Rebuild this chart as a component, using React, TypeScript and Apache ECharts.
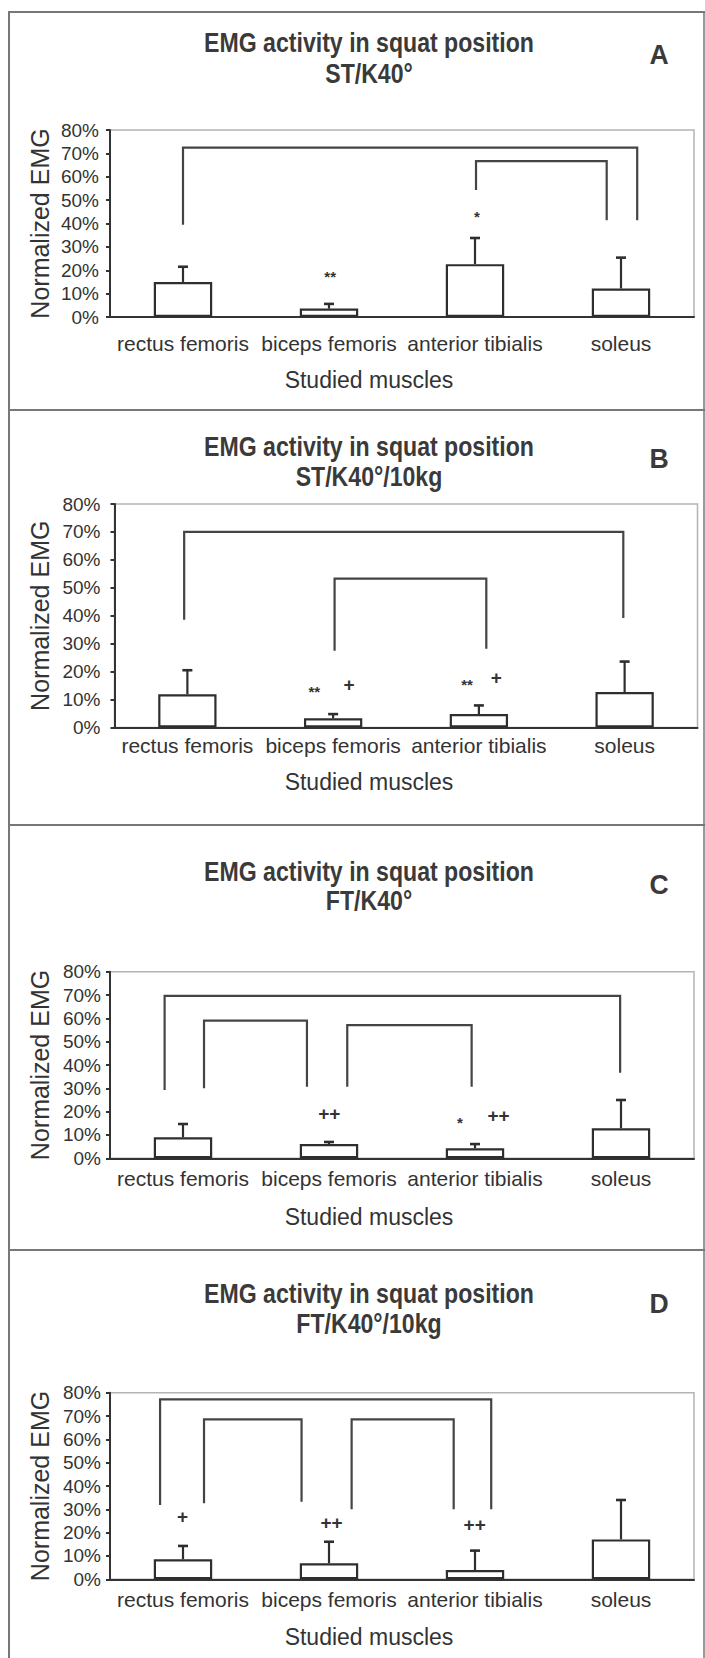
import React, { useEffect, useRef } from 'react';
import * as echarts from 'echarts';

const FONT = "'Liberation Sans', Arial, Helvetica, sans-serif";

const categories = ['rectus femoris', 'biceps femoris', 'anterior tibialis', 'soleus'];
const titleLine1 = 'EMG activity in squat position';
const subtitles = ['ST/K40°', 'ST/K40°/10kg', 'FT/K40°', 'FT/K40°/10kg'];
const panelLetters = ['A', 'B', 'C', 'D'];
const xAxisTitle = 'Studied muscles';
const yAxisTitle = 'Normalized EMG';

// mean normalized EMG (%) and top of error bar (%)
const meanA = [15, 3.6, 22.6, 12.2];
const errTopA = [21.5, 5.6, 33.8, 25.4];
const meanB = [11.9, 3.3, 4.8, 12.7];
const errTopB = [20.5, 4.8, 7.9, 23.6];
const meanC = [9, 6.1, 4.3, 12.9];
const errTopC = [14.7, 7, 6.1, 25];
const meanD = [8.6, 6.9, 4, 17.1];
const errTopD = [14.3, 16.1, 12.3, 34];

// significance markers: [x in category units, y %, symbol]
const markersA: [number, number, string][] = [[1.508, 18.6, '**'], [2.513, 44.3, '*']];
const markersB: [number, number, string][] = [[1.371, 14.1, '**'], [1.609, 15.5, '+'], [2.419, 16.7, '**'], [2.619, 17.9, '+']];
const markersC: [number, number, string][] = [[1.502, 19.3, '++'], [2.397, 16.7, '*'], [2.661, 18.3, '++']];
const markersD: [number, number, string][] = [[0.497, 27.1, '+'], [1.517, 24.3, '++'], [2.498, 23.3, '++']];

// comparison brackets: [xLeft, yLeftEnd, xRight, yRightEnd, yTop]
const bracketsA = [[0.5, 39.5, 3.611, 41.4, 72.5], [2.507, 54.3, 3.402, 41.4, 66.7]];
const bracketsB = [[0.478, 38.6, 3.491, 39.2, 70], [1.51, 27.5, 2.551, 28.2, 53.3]];
const bracketsC = [[0.374, 29.3, 3.494, 36.7, 69.6], [0.644, 30, 1.349, 30.7, 59], [1.625, 30.7, 2.477, 30.7, 57.1]];
const bracketsD = [[0.343, 31.9, 2.611, 30, 77.1], [0.644, 32.6, 1.312, 33.3, 68.6], [1.655, 30, 2.354, 30, 68.6]];

const panels = [
  { mean: meanA, errTop: errTopA, markers: markersA, brackets: bracketsA },
  { mean: meanB, errTop: errTopB, markers: markersB, brackets: bracketsB },
  { mean: meanC, errTop: errTopC, markers: markersC, brackets: bracketsC },
  { mean: meanD, errTop: errTopD, markers: markersD, brackets: bracketsD },
];

// layout (pixels)
const layouts = [
  { left: 110, top: 130, width: 584, height: 187, xm: 16, ym: 11, t1: 42, t2: 73, letter: 54, studied: 380 },
  { left: 114.5, top: 504, width: 583, height: 223.5, xm: 7, ym: 14, t1: 446, t2: 476.5, letter: 458, studied: 781.7 },
  { left: 110, top: 971.7, width: 584, height: 186.6, xm: 10, ym: 9, t1: 871, t2: 900, letter: 884, studied: 1216.7 },
  { left: 110, top: 1392.7, width: 584, height: 186.6, xm: 10, ym: 9, t1: 1293, t2: 1323, letter: 1303, studied: 1636.7 },
];
const separators = [12, 410, 825, 1250];

const INK = '#333';
const TITLE_INK = '#3a3a3a';

function buildOption() {
  const grid: any[] = [];
  const xAxis: any[] = [];
  const yAxis: any[] = [];
  const series: any[] = [];
  const graphic: any[] = [];

  panels.forEach((p, i) => {
    const L = layouts[i];
    grid.push({
      left: L.left, top: L.top, width: L.width, height: L.height,
      show: true, borderColor: '#b4b4b4', borderWidth: 1.5, backgroundColor: 'rgba(0,0,0,0)',
    });
    xAxis.push({
      gridIndex: i, type: 'category', data: categories,
      axisLine: { lineStyle: { color: INK, width: 2 } },
      axisTick: { length: 6, lineStyle: { color: INK, width: 2 } },
      axisLabel: { interval: 0, margin: L.xm, fontSize: 21, color: INK, fontFamily: FONT },
      splitLine: { show: false },
    });
    xAxis.push({ gridIndex: i, type: 'value', min: 0, max: 4, show: false });
    yAxis.push({
      gridIndex: i, type: 'value', min: 0, max: 80, interval: 10,
      axisLine: { show: true, lineStyle: { color: INK, width: 2 } },
      axisTick: { show: true, length: 4, lineStyle: { color: INK, width: 2 } },
      splitLine: { show: false },
      axisLabel: { formatter: '{value}%', fontSize: 19, color: INK, margin: L.ym, fontFamily: FONT },
    });
    const catX = 2 * i;
    const valX = 2 * i + 1;
    series.push({
      type: 'bar', xAxisIndex: catX, yAxisIndex: i, data: p.mean, barWidth: '40%',
      itemStyle: { color: '#fff', borderColor: '#2e2e2e', borderWidth: 2.2 }, silent: true,
    });
    series.push({
      type: 'custom', xAxisIndex: catX, yAxisIndex: i, z: 3,
      data: p.mean.map((m, k) => [k, m, p.errTop[k]]),
      renderItem: (params: any, api: any) => {
        const base = api.coord([api.value(0), api.value(1)]);
        const top = api.coord([api.value(0), api.value(2)]);
        return {
          type: 'group',
          children: [
            { type: 'line', shape: { x1: base[0], y1: base[1], x2: top[0], y2: top[1] }, style: { stroke: '#2e2e2e', lineWidth: 2.2 } },
            { type: 'line', shape: { x1: top[0] - 5, y1: top[1], x2: top[0] + 5, y2: top[1] }, style: { stroke: '#2e2e2e', lineWidth: 2.6 } },
          ],
        };
      },
    });
    series.push({
      type: 'custom', xAxisIndex: valX, yAxisIndex: i, z: 3,
      data: p.brackets,
      renderItem: (params: any, api: any) => {
        const a = api.coord([api.value(0), api.value(1)]);
        const at = api.coord([api.value(0), api.value(4)]);
        const bt = api.coord([api.value(2), api.value(4)]);
        const b = api.coord([api.value(2), api.value(3)]);
        return {
          type: 'polyline',
          shape: { points: [a, at, bt, b] },
          style: { stroke: '#444', lineWidth: 2.2, fill: null },
        };
      },
    });
    series.push({
      type: 'custom', xAxisIndex: valX, yAxisIndex: i, z: 3,
      data: p.markers.map((m) => [m[0], m[1]]),
      renderItem: (params: any, api: any) => {
        const c = api.coord([api.value(0), api.value(1)]);
        const sym = p.markers[params.dataIndex][2];
        const isStar = sym.indexOf('*') >= 0;
        const fs = isStar ? 15 : 19;
        return {
          type: 'text', x: c[0], y: c[1] + (isStar ? fs * 0.22 : 0),
          style: { text: sym, fontSize: fs, fontWeight: 'bold', fontFamily: FONT, fill: INK, align: 'center', verticalAlign: 'middle' },
        };
      },
    });

    // texts
    graphic.push({ type: 'text', x: 369, y: L.t1, scaleX: 0.856, style: { text: titleLine1, fontSize: 27, fontWeight: 'bold', fontFamily: FONT, fill: TITLE_INK, align: 'center', verticalAlign: 'middle' } });
    graphic.push({ type: 'text', x: 369, y: L.t2, scaleX: 0.856, style: { text: subtitles[i], fontSize: 27, fontWeight: 'bold', fontFamily: FONT, fill: TITLE_INK, align: 'center', verticalAlign: 'middle' } });
    graphic.push({ type: 'text', x: 659, y: L.letter, scaleX: 0.95, style: { text: panelLetters[i], fontSize: 28, fontWeight: 'bold', fontFamily: FONT, fill: TITLE_INK, align: 'center', verticalAlign: 'middle' } });
    graphic.push({ type: 'text', x: 369, y: L.studied, style: { text: xAxisTitle, fontSize: 23, fontFamily: FONT, fill: INK, align: 'center', verticalAlign: 'middle' } });
    graphic.push({ type: 'text', x: 40, y: L.top + L.height / 2, rotation: Math.PI / 2, style: { text: yAxisTitle, fontSize: 25, fontFamily: FONT, fill: INK, align: 'center', verticalAlign: 'middle' } });
  });

  separators.forEach((y) => {
    graphic.push({ type: 'line', shape: { x1: 8, y1: y, x2: 705, y2: y }, style: { stroke: '#777', lineWidth: 2 } });
  });
  graphic.push({ type: 'line', shape: { x1: 9, y1: 11, x2: 9, y2: 1658 }, style: { stroke: '#777', lineWidth: 2 } });
  graphic.push({ type: 'line', shape: { x1: 704, y1: 11, x2: 704, y2: 1658 }, style: { stroke: '#777', lineWidth: 1.5 } });

  return {
    animation: false,
    backgroundColor: '#fff',
    grid, xAxis, yAxis, series, graphic,
  };
}

export default function App() {
  const ref = useRef<HTMLDivElement>(null);
  useEffect(() => {
    if (!ref.current) return;
    const chart = echarts.init(ref.current, undefined, { renderer: 'svg' });
    chart.setOption(buildOption());
    return () => chart.dispose();
  }, []);
  return <div ref={ref} style={{ position: 'absolute', left: 0, top: 0, width: 705, height: 1658 }} />;
}
